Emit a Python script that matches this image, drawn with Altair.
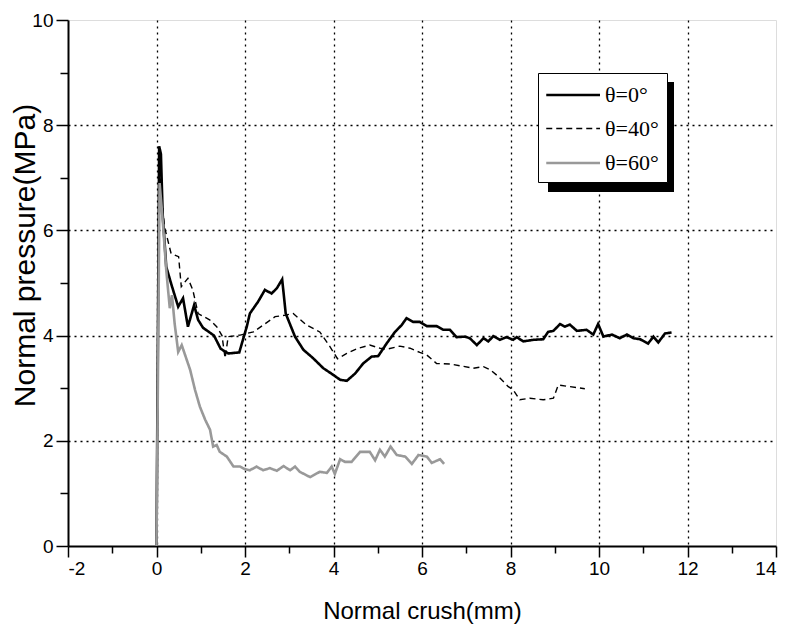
import altair as alt
import pandas as pd

# ---- data ----
x0 = [0, 0.06, 0.10, 0.14, 0.22, 0.33, 0.49, 0.60, 0.71, 0.85, 0.94, 1.05, 1.30, 1.45, 1.62, 1.87,
      2.04, 2.11, 2.30, 2.45, 2.60, 2.72, 2.84, 2.92, 3.13, 3.32, 3.54, 3.77, 4.00, 4.15, 4.30, 4.49,
      4.67, 4.86, 5.01, 5.20, 5.39, 5.54, 5.65, 5.80, 5.95, 6.11, 6.33, 6.48, 6.63, 6.78, 6.97, 7.08,
      7.24, 7.39, 7.50, 7.61, 7.76, 7.91, 8.06, 8.14, 8.29, 8.52, 8.74, 8.85, 8.97, 9.12, 9.23, 9.34,
      9.50, 9.72, 9.87, 9.98, 10.10, 10.29, 10.47, 10.63, 10.78, 10.93, 11.11, 11.23, 11.34, 11.49, 11.64]
y0 = [0, 7.60, 7.45, 6.30, 5.31, 4.99, 4.55, 4.71, 4.17, 4.58, 4.30, 4.15, 4.00, 3.75, 3.66, 3.68,
      4.17, 4.42, 4.65, 4.87, 4.80, 4.90, 5.07, 4.42, 3.98, 3.73, 3.57, 3.38, 3.25, 3.16, 3.14, 3.28,
      3.47, 3.60, 3.61, 3.85, 4.07, 4.20, 4.33, 4.26, 4.26, 4.18, 4.18, 4.11, 4.11, 3.97, 3.98, 3.95,
      3.82, 3.95, 3.89, 3.99, 3.92, 3.97, 3.92, 3.97, 3.89, 3.92, 3.93, 4.07, 4.09, 4.22, 4.17, 4.21,
      4.09, 4.11, 4.02, 4.22, 3.98, 4.02, 3.95, 4.02, 3.95, 3.93, 3.85, 3.98, 3.87, 4.04, 4.06]

x40 = [0, 0.07, 0.12, 0.18, 0.33, 0.50, 0.56, 0.71, 0.82, 0.94, 1.20, 1.36, 1.48, 1.55, 1.62, 1.89,
       2.19, 2.41, 2.68, 2.92, 3.09, 3.39, 3.69, 3.92, 4.09, 4.30, 4.56, 4.82, 5.05, 5.20, 5.50, 5.73,
       5.95, 6.11, 6.33, 6.63, 6.90, 7.16, 7.39, 7.54, 7.73, 7.95, 8.06, 8.21, 8.44, 8.74, 8.97, 9.08,
       9.34, 9.68]
y40 = [0, 7.20, 6.60, 6.07, 5.56, 5.50, 4.93, 5.09, 4.87, 4.42, 4.30, 4.17, 4.00, 3.57, 3.98, 4.01,
       4.07, 4.20, 4.36, 4.39, 4.42, 4.20, 4.07, 3.79, 3.56, 3.66, 3.76, 3.82, 3.76, 3.74, 3.80, 3.76,
       3.68, 3.63, 3.47, 3.46, 3.42, 3.38, 3.41, 3.35, 3.22, 3.03, 2.97, 2.78, 2.81, 2.78, 2.81, 3.06,
       3.03, 2.99]

x60 = [0, 0.07, 0.12, 0.15, 0.22, 0.30, 0.35, 0.41, 0.49, 0.57, 0.76, 0.87, 0.98, 1.10, 1.21, 1.28,
       1.36, 1.43, 1.59, 1.74, 1.89, 2.00, 2.11, 2.26, 2.41, 2.56, 2.72, 2.87, 3.02, 3.13, 3.24, 3.47,
       3.69, 3.85, 3.96, 4.03, 4.15, 4.26, 4.41, 4.60, 4.82, 4.94, 5.05, 5.16, 5.29, 5.43, 5.62, 5.77,
       5.92, 6.11, 6.22, 6.41, 6.50]
y60 = [0, 6.90, 6.40, 6.07, 5.25, 4.52, 4.77, 4.23, 3.69, 3.82, 3.35, 2.97, 2.65, 2.40, 2.21, 1.89,
       1.92, 1.79, 1.70, 1.51, 1.51, 1.46, 1.44, 1.51, 1.44, 1.48, 1.43, 1.52, 1.44, 1.51, 1.41, 1.31,
       1.41, 1.39, 1.51, 1.37, 1.65, 1.60, 1.60, 1.79, 1.79, 1.63, 1.83, 1.70, 1.89, 1.73, 1.70, 1.56,
       1.73, 1.70, 1.58, 1.65, 1.56]

series_names = ["θ=0°", "θ=40°", "θ=60°"]
x_ticks = list(range(-2, 15))
y_ticks = list(range(0, 11))

assert len(x0) == len(y0) and len(x40) == len(y40) and len(x60) == len(y60)

rows = []
for name, xs, ys in zip(series_names, [x0, x40, x60], [y0, y40, y60]):
    for i, (a, b) in enumerate(zip(xs, ys)):
        rows.append({"series": name, "x": a, "y": b, "i": i})
df = pd.DataFrame(rows)

even = "datum.value % 2 === 0"
font = "Liberation Sans"

x_axis = alt.Axis(
    values=x_ticks, labelExpr=f"{even} ? ('' + datum.value) : ''",
    title="Normal crush(mm)", titleFont=font, titleFontSize=24, titleFontWeight="normal",
    titleColor="black", titleX=354, titleY=65, titleBaseline="middle", titleAlign="center",
    labelFont=font, labelFontSize=19, labelColor="black", labelPadding=2,
    tickSize={"condition": {"test": even, "value": 11}, "value": 7},
    tickColor="black", tickWidth=1.5,
    domainColor="black", domainWidth=2,
    grid=True, gridColor="black", gridDash=[2, 4], gridWidth=1.3,
    gridOpacity={"condition": {"test": f"{even} && datum.value > -2 && datum.value < 14", "value": 1}, "value": 0},
)
y_axis = alt.Axis(
    values=y_ticks, labelExpr=f"{even} ? ('' + datum.value) : ''",
    title="Normal pressure(MPa)", titleFont=font, titleFontSize=30, titleFontWeight="normal",
    titleColor="black", titleX=-43, titleY=235, titleBaseline="middle", titleAlign="center",
    labelFont=font, labelFontSize=19, labelColor="black", labelPadding=3,
    tickSize={"condition": {"test": even, "value": 12}, "value": 8},
    tickColor="black", tickWidth=1.5,
    domainColor="black", domainWidth=2,
    grid=True, gridColor="black", gridDash=[2, 4], gridWidth=1.3,
    gridOpacity={"condition": {"test": f"{even} && datum.value > 0 && datum.value < 10", "value": 1}, "value": 0},
)

legend = alt.Legend(
    title=None, orient="none", legendX=470, legendY=53,
    fillColor="white", strokeColor="black", padding=8,
    symbolType="M-1.1,0H3.2", symbolSize=625, labelFont="Liberation Serif", labelFontSize=22,
    labelColor="black", labelOffset=31, rowPadding=9, labelLimit=0,
)

lines = alt.Chart(df).mark_line(clip=True).encode(
    x=alt.X("x:Q", scale=alt.Scale(domain=[-2, 14], nice=False, zero=False), axis=x_axis),
    y=alt.Y("y:Q", scale=alt.Scale(domain=[0, 10], nice=False), axis=y_axis),
    order="i:Q",
    color=alt.Color("series:N", scale=alt.Scale(domain=series_names, range=["#000000", "#000000", "#999999"]), legend=legend),
    strokeDash=alt.StrokeDash("series:N", scale=alt.Scale(domain=series_names, range=[[1, 0], [6, 4], [1, 0]]), legend=legend),
    strokeWidth=alt.StrokeWidth("series:N", scale=alt.Scale(type="ordinal", domain=series_names, range=[2.6, 1.4, 2.6]), legend=legend),
)

# drop shadow behind the legend box (offset 8 px right and down)
shadow = alt.Chart(pd.DataFrame({"k": [0]})).mark_rect(color="black").encode(
    x=alt.value(480), x2=alt.value(606), y=alt.value(62), y2=alt.value(172)
)

chart = alt.layer(lines, shadow).properties(
    width=708, height=526,
    autosize=alt.AutoSizeParams(type="none"),
    padding={"left": 68, "top": 20, "right": 13, "bottom": 84},
).configure_view(stroke="black", strokeWidth=2).configure(background="white")

chart.save("out.html", embed_options={"renderer": "svg", "actions": False})
